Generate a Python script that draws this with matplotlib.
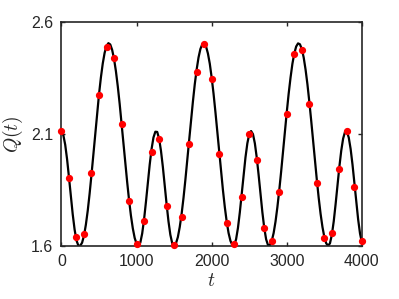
import matplotlib
matplotlib.use("Agg")
import matplotlib.pyplot as plt

# Curve samples (t every 25)
line_t = list(range(0, 4001, 25))
line_q = [
    2.113, 2.095, 2.052, 1.987, 1.907, 1.822, 1.741, 1.673, 1.624, 1.601,   # 0-225
    1.600, 1.614, 1.645, 1.694, 1.757, 1.833, 1.918, 2.009, 2.101, 2.192,   # 250-475
    2.277, 2.352, 2.415, 2.463, 2.493, 2.506, 2.500, 2.476, 2.436, 2.381,   # 500-725
    2.313, 2.235, 2.149, 2.060, 1.971, 1.885, 1.805, 1.735, 1.678, 1.635,   # 750-975
    1.609, 1.600, 1.614, 1.655, 1.718, 1.796, 1.880, 1.963, 2.033, 2.084,   # 1000-1225
    2.110, 2.109, 2.079, 2.025, 1.953, 1.870, 1.786, 1.709, 1.649, 1.611,   # 1250-1475
    1.600, 1.611, 1.639, 1.684, 1.743, 1.814, 1.895, 1.981, 2.071, 2.160,   # 1500-1725
    2.244, 2.322, 2.388, 2.442, 2.480, 2.501, 2.505, 2.491, 2.460, 2.414,   # 1750-1975
    2.352, 2.280, 2.198, 2.110, 2.021, 1.932, 1.849, 1.773, 1.708, 1.657,   # 2000-2225
    1.622, 1.603, 1.603, 1.629, 1.680, 1.750, 1.833, 1.917, 1.995, 2.058,   # 2250-2475
    2.099, 2.113, 2.099, 2.058, 1.995, 1.917, 1.833, 1.750, 1.680, 1.629,   # 2500-2725
    1.603, 1.603, 1.622, 1.657, 1.708, 1.773, 1.849, 1.932, 2.021, 2.110,   # 2750-2975
    2.198, 2.280, 2.352, 2.414, 2.460, 2.491, 2.505, 2.501, 2.480, 2.442,   # 3000-3225
    2.388, 2.322, 2.244, 2.160, 2.071, 1.981, 1.895, 1.814, 1.743, 1.684,   # 3250-3475
    1.639, 1.611, 1.600, 1.611, 1.649, 1.709, 1.786, 1.870, 1.953, 2.025,   # 3500-3725
    2.079, 2.109, 2.110, 2.084, 2.033, 1.963, 1.880, 1.796, 1.718, 1.655,   # 3750-3975
    1.614,                                                                  # 4000
]

# Sampled points (red dots)
dot_t = list(range(0, 4001, 100))
dot_q = [
    2.114, 1.903, 1.638, 1.652, 1.924, 2.272, 2.490, 2.438, 2.145, 1.801,
    1.607, 1.712, 2.019, 2.078, 1.779, 1.604, 1.730, 2.056, 2.379, 2.503,
    2.347, 2.010, 1.703, 1.609, 1.819, 2.098, 1.982, 1.680, 1.621, 1.840,
    2.189, 2.458, 2.476, 2.232, 1.880, 1.634, 1.657, 1.944, 2.111, 1.861,
    1.622,
]

x_ticks = [0, 1000, 2000, 3000, 4000]
y_ticks = [1.6, 2.1, 2.6]
y_tick_labels = ["1.6", "2.1", "2.6"]

plt.rcParams['font.family'] = ['Liberation Sans', 'DejaVu Sans']
plt.rcParams['mathtext.fontset'] = 'cm'

fig = plt.figure(figsize=(3.99, 2.99), dpi=100)
ax = fig.add_axes([0.154, 0.178, 0.753, 0.748])

ax.plot(line_t, line_q, color='black', lw=1.6, zorder=2)
ax.plot(dot_t, dot_q, 'o', color='red', ms=4.2, mec='red', zorder=3, clip_on=False)

ax.set_xlim(0, 4000)
ax.set_ylim(1.6, 2.6)
ax.set_xticks(x_ticks)
ax.set_xticklabels([str(v) for v in x_ticks])
ax.set_yticks(y_ticks)
ax.set_yticklabels(y_tick_labels)

dark = '#262626'
for s in ax.spines.values():
    s.set_linewidth(1.2)
    s.set_color(dark)
ax.tick_params(direction='in', length=3, width=1.0, colors=dark,
               labelsize=11.5, top=True, right=True)
ax.tick_params(axis='x', pad=6)
ax.tick_params(axis='y', pad=6)

ax.set_xlabel(r'$t$', fontsize=14, color=dark, labelpad=3)
ax.set_ylabel(r'$Q(t)$', fontsize=14, color=dark, labelpad=4)

fig.savefig('out.png', dpi=100)
